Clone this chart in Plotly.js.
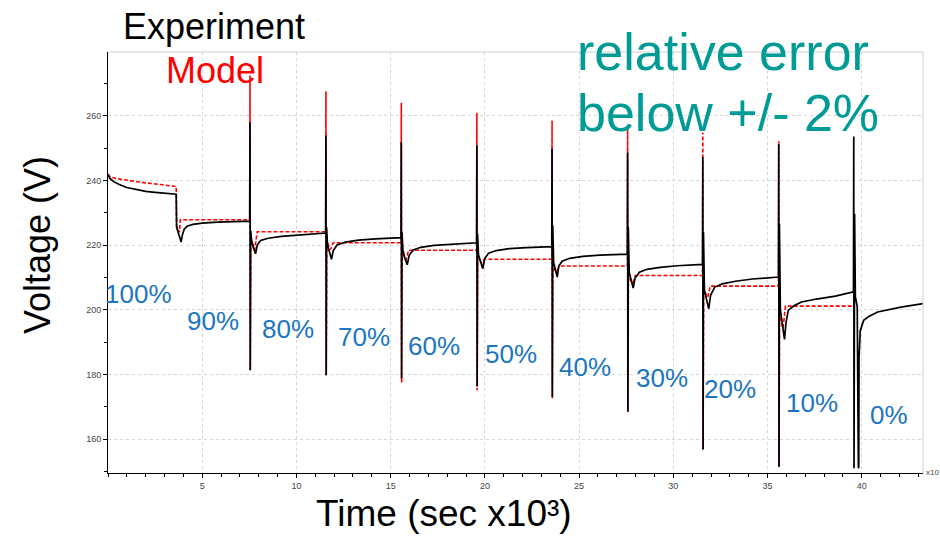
<!DOCTYPE html>
<html>
<head>
<meta charset="utf-8">
<script src="https://cdn.plot.ly/plotly-3.0.1.min.js"></script>
<style>html,body{margin:0;padding:0;background:#fff;}#chart{width:940px;height:536px;}</style>
</head>
<body>
<div id="chart"></div>
<script>
// Experiment (black) : time in sec x10^3, voltage in V
const expTime = [
  0, 0.1, 0.3, 0.6, 1.0, 1.5, 2.0, 2.5, 3.0, 3.62,
  3.64, 3.70, 3.80, 3.88, 3.95, 4.05, 4.2, 4.5, 5.0, 5.8, 6.6, 7.52,
  7.535, 7.55, 7.57, 7.62, 7.70, 7.83, 7.92, 8.1, 8.5, 9.2, 10.2, 11.0, 11.55,
  11.565, 11.58, 11.60, 11.65, 11.75, 11.86, 11.95, 12.15, 12.6, 13.3, 14.2, 15.0, 15.55,
  15.565, 15.58, 15.60, 15.65, 15.75, 15.88, 15.98, 16.2, 16.6, 17.3, 18.2, 19.0, 19.56,
  19.575, 19.59, 19.61, 19.66, 19.76, 19.89, 19.99, 20.2, 20.6, 21.3, 22.2, 23.0, 23.55,
  23.565, 23.58, 23.60, 23.65, 23.74, 23.84, 23.92, 24.1, 24.5, 25.2, 26.1, 26.9, 27.56,
  27.575, 27.59, 27.61, 27.66, 27.76, 27.87, 27.97, 28.2, 28.6, 29.3, 30.2, 31.0, 31.55,
  31.565, 31.58, 31.60, 31.65, 31.75, 31.88, 31.98, 32.2, 32.6, 33.3, 34.2, 35.0, 35.58,
  35.595, 35.61, 35.63, 35.68, 35.78, 35.90, 35.98, 36.1, 36.4, 36.8, 37.6, 38.6, 39.56,
  39.575, 39.59, 39.62, 39.66, 39.76, 39.82, 39.84, 39.855, 39.87, 39.92, 40.1, 40.4, 40.84, 41.5, 42.08, 43.25
];
const expVolt = [
  241.8, 240.6, 239.6, 238.7, 237.8, 237.1, 236.6, 236.3, 236.0, 235.7,
  225.5, 224.6, 222.5, 220.9, 223.2, 225.0, 225.8, 226.4, 226.8, 227.1, 227.3, 227.4,
  258.0, 181.3, 224.5, 221.5, 219.5, 217.3, 220.0, 221.4, 222.1, 222.7, 223.2, 223.5, 223.7,
  253.9, 179.7, 225.5, 220.0, 217.8, 215.6, 218.2, 220.0, 220.9, 221.5, 221.9, 222.2, 222.3,
  251.8, 178.8, 224.0, 218.5, 216.0, 213.9, 216.8, 218.5, 219.3, 219.9, 220.3, 220.6, 220.7,
  250.8, 176.3, 223.5, 217.0, 214.8, 212.7, 215.8, 217.5, 218.3, 218.9, 219.2, 219.4, 219.5,
  249.8, 173.0, 226.1, 214.5, 212.0, 210.1, 213.5, 215.0, 215.9, 216.5, 216.9, 217.1, 217.2,
  248.6, 168.5, 225.6, 211.5, 209.0, 206.7, 209.8, 211.6, 212.5, 213.1, 213.6, 213.9, 214.0,
  247.2, 156.8, 224.0, 206.0, 203.0, 200.3, 204.5, 207.0, 208.0, 208.8, 209.5, 209.9, 210.1,
  251.3, 151.4, 226.6, 200.0, 195.0, 190.8, 196.0, 199.8, 201.2, 202.4, 203.3, 204.2, 205.5,
  253.6, 151.0, 229.7, 204.0, 201.0, 151.2, 151.0, 185.0, 190.0, 193.5, 196.7, 198.0, 199.3, 200.2, 200.8, 201.9
];

// Model (red dashed)
const modelTime = [
  0, 0.12, 0.5, 1.0, 1.9, 2.8, 3.62,
  3.64, 3.72, 3.79, 3.84, 7.52,
  7.535, 7.55, 7.58, 7.78, 7.92, 11.55,
  11.565, 11.58, 11.61, 11.81, 11.95, 15.55,
  15.565, 15.58, 15.61, 15.81, 15.95, 19.56,
  19.575, 19.59, 19.62, 19.82, 19.96, 23.55,
  23.565, 23.58, 23.61, 23.81, 23.95, 27.56,
  27.575, 27.59, 27.62, 27.86, 27.98, 31.55,
  31.565, 31.58, 31.61, 31.83, 31.96, 35.58,
  35.595, 35.61, 35.64, 35.82, 35.95, 39.57
];
const modelVolt = [
  242.0, 241.0, 240.5, 240.0, 239.3, 238.7, 238.1,
  226.0, 225.0, 224.0, 227.8, 227.8,
  272.4, 181.3, 222.0, 218.4, 224.1, 224.1,
  267.6, 179.7, 221.0, 218.6, 220.7, 220.7,
  264.0, 177.4, 218.0, 215.3, 218.4, 218.4,
  260.9, 175.1, 216.0, 214.4, 215.6, 215.6,
  258.5, 172.6, 213.0, 211.7, 213.5, 213.5,
  256.0, 168.4, 210.0, 208.1, 210.6, 210.6,
  254.8, 156.8, 206.0, 203.9, 207.3, 207.3,
  252.1, 151.4, 198.0, 194.2, 201.1, 201.1
];

// State-of-charge labels
const socLabels = ['100%','90%','80%','70%','60%','50%','40%','30%','20%','10%','0%'];
const xTickVals = [5, 10, 15, 20, 25, 30, 35, 40];
const yTickVals = [160, 180, 200, 220, 240, 260];

// pixel helpers for text placement (plot area 108..923 x 52..473)
const L = 108, R = 923, T = 52, B = 473;
const px = x => (x - L) / (R - L);
const py = y => (B - y) / (B - T);

const socPos = [[138,293.7],[213,320.7],[288,329],[364,337.4],[434,345.7],[511,354],[585,367.4],[662,378.4],[729.5,389],[811.7,403.4],[889,414.7]];

const FONT = 'Liberation Sans, Arial, Helvetica, sans-serif';

const annotations = [];
socLabels.forEach((s, i) => {
  annotations.push({text: s, xref:'paper', yref:'paper', x: px(socPos[i][0]), y: py(socPos[i][1]),
    xanchor:'center', yanchor:'middle', showarrow:false, font:{family:FONT, size:26, color:'#1c76bf'}});
});
annotations.push({text:'Experiment', xref:'paper', yref:'paper', x: px(121), y: py(26.5), xanchor:'left', yanchor:'middle', showarrow:false, font:{family:FONT, size:36, color:'#000'}});
annotations.push({text:'Model', xref:'paper', yref:'paper', x: px(164), y: py(70), xanchor:'left', yanchor:'middle', showarrow:false, font:{family:FONT, size:36, color:'#ff0000'}});
annotations.push({text:'relative error', xref:'paper', yref:'paper', x: px(575), y: py(51.5), xanchor:'left', yanchor:'middle', showarrow:false, font:{family:FONT, size:52, color:'#009b94'}});
annotations.push({text:'below +/- 2%', xref:'paper', yref:'paper', x: px(575), y: py(113), xanchor:'left', yanchor:'middle', showarrow:false, font:{family:FONT, size:52, color:'#009b94'}});
annotations.push({text:'Voltage (V)', xref:'paper', yref:'paper', x: px(37), y: py(245), xanchor:'center', yanchor:'middle', textangle:-90, showarrow:false, font:{family:FONT, size:36, color:'#000'}});
annotations.push({text:'Time (sec x10³)', xref:'paper', yref:'paper', x: px(444), y: py(513), xanchor:'center', yanchor:'middle', showarrow:false, font:{family:FONT, size:37, color:'#000'}});
annotations.push({text:'x10', xref:'paper', yref:'paper', x: px(924), y: py(472), xanchor:'left', yanchor:'middle', showarrow:false, font:{family:FONT, size:8, color:'#444'}});

// model drawn first so the experiment trace sits on top (as in the reference)
const traces = [
  {x: modelTime, y: modelVolt, type:'scatter', mode:'lines', name:'Model', line:{color:'#ff0000', width:1.6, dash:'4px,2px'}},
  {x: expTime, y: expVolt, type:'scatter', mode:'lines', name:'Experiment', line:{color:'#000', width:1.7}}
];

const axisCommon = {
  showgrid:true, gridcolor:'#d6d6d6', griddash:'3px,3px', gridwidth:1,
  showline:true, linecolor:'#000', linewidth:1, zeroline:false,
  ticks:'outside', ticklen:4, tickcolor:'#000', tickwidth:1,
  tickfont:{family:FONT, size:9, color:'#444'}
};

const layout = {
  width:940, height:536,
  margin:{l:L, r:940-R, t:T, b:536-B, pad:0},
  paper_bgcolor:'#fff', plot_bgcolor:'#fff',
  showlegend:false,
  xaxis: Object.assign({}, axisCommon, {range:[0.0001, 43.25], tickmode:'array', tickvals:xTickVals,
    minor:{dtick:1, tick0:0, ticks:'outside', ticklen:3, tickcolor:'#000', showgrid:false}}),
  yaxis: Object.assign({}, axisCommon, {range:[149.5, 279.7], tickmode:'array', tickvals:yTickVals,
    minor:{dtick:10, tick0:0, ticks:'outside', ticklen:3, tickcolor:'#000', showgrid:false}}),
  shapes:[
    {type:'line', xref:'paper', yref:'paper', x0:0, x1:1, y0:1, y1:1, line:{color:'#cfcfcf', width:1}},
    {type:'line', xref:'paper', yref:'paper', x0:1, x1:1, y0:0, y1:1, line:{color:'#cfcfcf', width:1}}
  ],
  annotations: annotations
};

Plotly.newPlot('chart', traces, layout, {staticPlot:true, displayModeBar:false});
</script>
</body>
</html>
